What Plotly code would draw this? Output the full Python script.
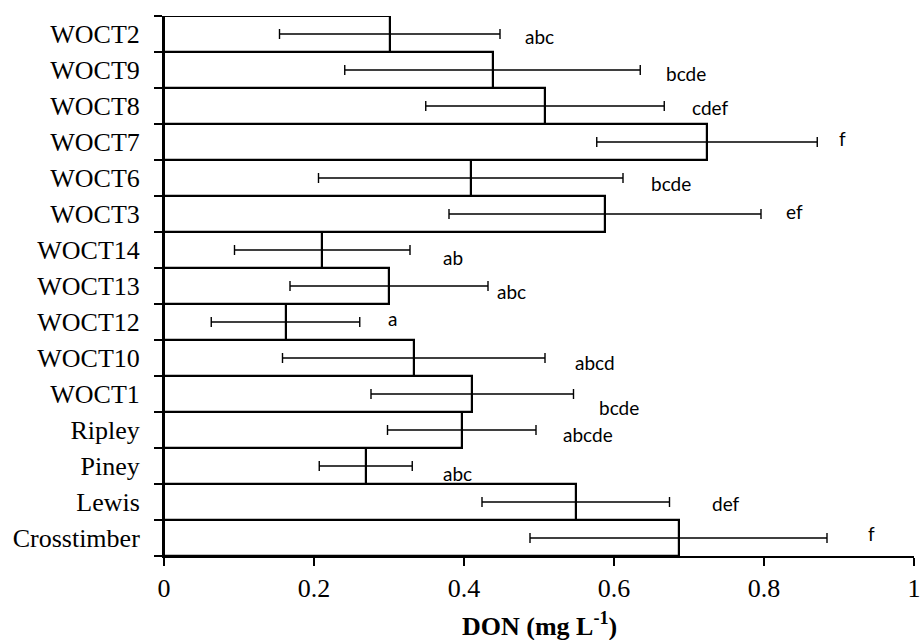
import plotly.graph_objects as go

# Data (bottom to top, as drawn)
sites = ["Crosstimber", "Lewis", "Piney", "Ripley", "WOCT1", "WOCT10", "WOCT12",
         "WOCT13", "WOCT14", "WOCT3", "WOCT6", "WOCT7", "WOCT8", "WOCT9", "WOCT2"]
don_mean = [0.686, 0.549, 0.269, 0.397, 0.411, 0.333, 0.162,
            0.300, 0.211, 0.588, 0.409, 0.724, 0.508, 0.438, 0.301]
don_err = [0.198, 0.125, 0.062, 0.099, 0.135, 0.175, 0.099,
           0.132, 0.117, 0.208, 0.203, 0.147, 0.159, 0.197, 0.147]
groups = ["f", "def", "abc", "abcde", "bcde", "abcd", "a",
          "abc", "ab", "ef", "bcde", "f", "cdef", "bcde", "abc"]

# Placement of the significance letters (x in data units, vertical pixel offset)
label_x = [0.943, 0.749, 0.391, 0.565, 0.606, 0.575, 0.305,
           0.463, 0.385, 0.840, 0.676, 0.905, 0.728, 0.696, 0.501]
label_dy = [-5, 1, 7, 4, 13, 4, -4, 5, 7, -3, 5, -4, 1, 3, 2]

x_ticks = [0, 0.2, 0.4, 0.6, 0.8, 1]
x_tick_text = ["0", "0.2", "0.4", "0.6", "0.8", "1"]
x_title = "<b>DON (mg L<sup>-1</sup>)</b>"

fig = go.Figure()
fig.add_trace(go.Bar(
    y=sites, x=don_mean, orientation="h",
    marker=dict(color="white", line=dict(color="black", width=2.2)),
    error_x=dict(type="data", array=don_err, visible=True,
                 color="black", thickness=1.4, width=5),
    showlegend=False, hoverinfo="skip",
))

for s, lx, dy, g in zip(sites, label_x, label_dy, groups):
    fig.add_annotation(x=lx, y=s, text=g, showarrow=False, yshift=-dy,
                       font=dict(family="Lato", size=19, color="black"))

fig.add_annotation(x=0.5, y=0, xref="paper", yref="paper", text=x_title,
                   showarrow=False, yanchor="middle", yshift=-68,
                   font=dict(family="Liberation Serif", size=26, color="black"))

fig.update_layout(
    width=923, height=640,
    margin=dict(l=164, r=9, t=16, b=84, autoexpand=False),
    plot_bgcolor="white", paper_bgcolor="white",
    bargap=0,
    font=dict(family="Liberation Serif", size=26, color="black"),
)
fig.update_xaxes(
    range=[0, 1], tickvals=x_ticks, ticktext=x_tick_text,
    showgrid=False, zeroline=False, automargin=False,
    showline=True, linecolor="black", linewidth=2,
    ticks="outside", ticklen=8, tickwidth=1.5, tickcolor="black",
    ticklabelstandoff=0,
    tickfont=dict(family="Liberation Serif", size=26, color="black"),
)
fig.update_yaxes(
    type="category", categoryorder="array", categoryarray=sites,
    range=[-0.5, len(sites) - 0.5],
    showgrid=False, zeroline=False, automargin=False,
    showline=True, linecolor="black", linewidth=2,
    ticks="outside", ticklen=8, tickwidth=1.5, tickcolor="black",
    tickson="boundaries", ticklabelstandoff=17,
    tickfont=dict(family="Liberation Serif", size=26, color="black"),
)

fig.write_html("out.html", config={"displayModeBar": False},
               post_script="document.body.style.margin='0';")
